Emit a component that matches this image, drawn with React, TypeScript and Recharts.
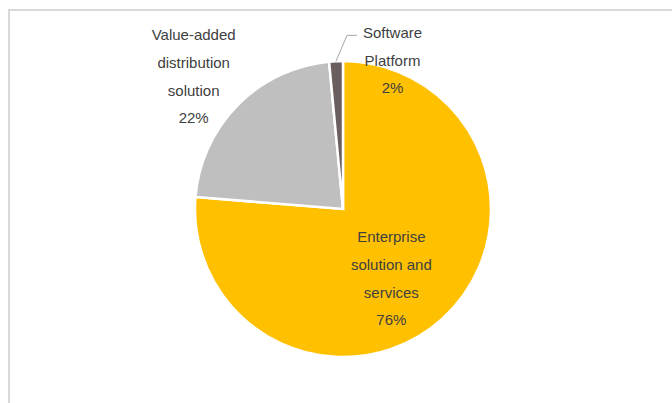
import React from "react";
import { PieChart, Pie, Cell } from "recharts";

const categories = ["Enterprise solution and services", "Value-added distribution solution", "Software Platform"];
const values = [76.3, 22.2, 1.5];
const labelLines = [
  ["Enterprise", "solution and", "services"],
  ["Value-added", "distribution", "solution"],
  ["Software", "Platform"],
];
const colors = ["#FFC000", "#BFBFBF", "#6B5E5E"];

const data = categories.map((name, i) => ({ name, value: values[i] }));

const RAD = Math.PI / 180;
// per-slice label placement: radius factor and angle offset (deg)
const labelPos = [
  { r: 0.57, da: -7.7 },
  { r: 1.35, da: 3 },
  { r: 1.06, da: -21.1 },
];

const renderLabel = (props: any) => {
  const { cx, cy, midAngle, outerRadius, index, percent } = props;
  const p = labelPos[index];
  const ang = (midAngle + p.da) * RAD;
  const x = cx + outerRadius * p.r * Math.cos(ang);
  const y = cy - outerRadius * p.r * Math.sin(ang);
  const lines = [...labelLines[index], `${Math.round(percent * 100)}%`];
  const lh = 27.8;
  const y0 = y - ((lines.length - 1) * lh) / 2;
  let leader = null;
  if (index === 2) {
    const ma = midAngle * RAD;
    const sx = cx + outerRadius * Math.cos(ma);
    const sy = cy - outerRadius * Math.sin(ma);
    const tx = sx + 11;
    const ty = y0 + 3;
    leader = (
      <polyline
        points={`${sx},${sy} ${tx},${ty} ${tx + 10},${ty}`}
        fill="none"
        stroke="#A6A6A6"
        strokeWidth={1}
      />
    );
  }
  return (
    <g>
      {leader}
      {lines.map((t, i) => (
        <text
          key={i}
          x={x}
          y={y0 + i * lh}
          textAnchor="middle"
          dominantBaseline="central"
          fill="#404040"
          fontSize={15}
          fontFamily="'Liberation Sans', Arial, sans-serif"
        >
          {t}
        </text>
      ))}
    </g>
  );
};

export default function App() {
  return (
    <div style={{ position: "absolute", left: 0, top: 0, width: 672, height: 403, background: "#fff", overflow: "hidden" }}>
      <div
        style={{
          position: "absolute",
          left: 8,
          top: 9,
          width: 700,
          height: 420,
          borderLeft: "2px solid #D9D9D9",
          borderTop: "2px solid #D9D9D9",
          boxSizing: "border-box",
        }}
      />
      <div style={{ position: "absolute", left: 0, top: 0 }}>
        <PieChart width={672} height={403} margin={{ top: 0, right: 0, bottom: 0, left: 0 }}>
          <Pie
            data={data}
            dataKey="value"
            nameKey="name"
            cx={343}
            cy={209}
            outerRadius={148}
            startAngle={90}
            endAngle={-270}
            stroke="#FFFFFF"
            strokeWidth={2.5}
            label={renderLabel}
            labelLine={false}
            isAnimationActive={false}
          >
            {data.map((d, i) => (
              <Cell key={d.name} fill={colors[i]} />
            ))}
          </Pie>
        </PieChart>
      </div>
    </div>
  );
}
